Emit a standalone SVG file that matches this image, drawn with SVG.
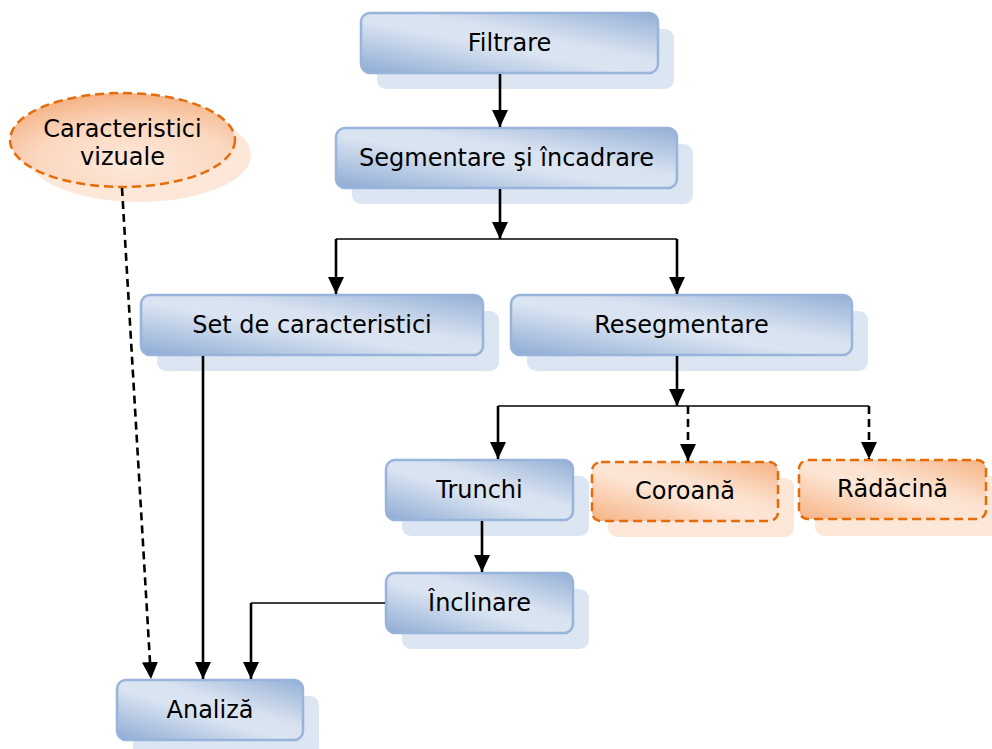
<svg xmlns="http://www.w3.org/2000/svg" width="992" height="749" viewBox="0 0 992 749">
<defs>
<linearGradient id="gb" x1="0" y1="1" x2="1" y2="0">
<stop offset="0" stop-color="#8eabd4"/>
<stop offset="0.45" stop-color="#dbe5f2"/>
<stop offset="0.6" stop-color="#d8e2f0"/>
<stop offset="1" stop-color="#93afd6"/>
</linearGradient>
<linearGradient id="go" x1="0" y1="1" x2="1" y2="0">
<stop offset="0" stop-color="#f6b384"/>
<stop offset="0.45" stop-color="#fde6d6"/>
<stop offset="0.6" stop-color="#fce2cf"/>
<stop offset="1" stop-color="#f6b384"/>
</linearGradient>
<radialGradient id="ge" cx="0.55" cy="0.75" r="0.8">
<stop offset="0" stop-color="#fde9db"/>
<stop offset="0.55" stop-color="#fbd7bf"/>
<stop offset="1" stop-color="#f4ad7c"/>
</radialGradient>
<marker id="ah" viewBox="0 0 17 16" refX="17" refY="8" markerWidth="17" markerHeight="16" markerUnits="userSpaceOnUse" orient="auto">
<path d="M0,0 L17,8 L0,16 z" fill="#000"/>
</marker>
</defs>
<style>
.sb{fill:#dce6f2;}
.so{fill:#fde7d8;}
.bb{fill:url(#gb);stroke:#98b4da;stroke-width:2.5;}
.bo{fill:url(#go);stroke:#e46c0a;stroke-width:2.5;stroke-dasharray:9 5;}
.t{font-family:"DejaVu Sans",Verdana,sans-serif;font-size:24px;fill:#000;text-anchor:middle;}
.c{fill:none;stroke:#000;stroke-width:2.6;}
.h{fill:none;stroke:#000;stroke-width:1.6;}
.d{stroke-dasharray:8 5;}
</style>
<g id="node-caracteristici-vizuale">
<ellipse cx="139" cy="155" rx="112" ry="47" class="so"/>
<ellipse cx="122.5" cy="140" rx="112.5" ry="47" fill="url(#ge)" stroke="#e46c0a" stroke-width="2.5" stroke-dasharray="9 5"/>
<text class="t" x="122.5" y="137">Caracteristici</text>
<text class="t" x="122.5" y="165">vizuale</text>
</g>
<g id="node-filtrare">
<rect class="sb" x="377" y="29" width="297" height="60" rx="9"/>
<rect class="bb" x="361" y="13" width="297" height="60" rx="9"/>
<text class="t" x="509.5" y="51">Filtrare</text>
</g>
<g id="node-segmentare">
<rect class="sb" x="352" y="144" width="341" height="60" rx="9"/>
<rect class="bb" x="336" y="128" width="341" height="60" rx="9"/>
<text class="t" x="506.5" y="166">Segmentare şi încadrare</text>
</g>
<g id="node-set">
<rect class="sb" x="157" y="311" width="342" height="60" rx="9"/>
<rect class="bb" x="141" y="295" width="342" height="60" rx="9"/>
<text class="t" x="312" y="333">Set de caracteristici</text>
</g>
<g id="node-resegmentare">
<rect class="sb" x="527" y="311" width="341" height="60" rx="9"/>
<rect class="bb" x="511" y="295" width="341" height="60" rx="9"/>
<text class="t" x="681.5" y="333">Resegmentare</text>
</g>
<g id="node-trunchi">
<rect class="sb" x="402" y="476" width="187" height="60" rx="9"/>
<rect class="bb" x="386" y="460" width="187" height="60" rx="9"/>
<text class="t" x="479.5" y="498">Trunchi</text>
</g>
<g id="node-coroana">
<rect class="so" x="608" y="478" width="186" height="59" rx="9"/>
<rect class="bo" x="592" y="462" width="186" height="59" rx="9"/>
<text class="t" x="685" y="499">Coroană</text>
</g>
<g id="node-radacina">
<rect class="so" x="815" y="476" width="187" height="60" rx="9"/>
<rect class="bo" x="799" y="460" width="187" height="59" rx="9"/>
<text class="t" x="892.5" y="497">Rădăcină</text>
</g>
<g id="node-inclinare">
<rect class="sb" x="402" y="589" width="187" height="60" rx="9"/>
<rect class="bb" x="386" y="573" width="187" height="60" rx="9"/>
<text class="t" x="479.5" y="611">Înclinare</text>
</g>
<g id="node-analiza">
<rect class="sb" x="133" y="696" width="186" height="60" rx="9"/>
<rect class="bb" x="117" y="680" width="186" height="60" rx="9"/>
<text class="t" x="210" y="718">Analiză</text>
</g>
<g id="connectors">
<path class="c" d="M500,74 L500,127" marker-end="url(#ah)"/>
<path class="c" d="M500,189 L500,239" marker-end="url(#ah)"/>
<path class="h" d="M336,239 L677,239"/>
<path class="c" d="M336,239 L336,294" marker-end="url(#ah)"/>
<path class="c" d="M677,239 L677,294" marker-end="url(#ah)"/>
<path class="c" d="M677,356 L677,406" marker-end="url(#ah)"/>
<path class="h" d="M498,406 L869,406"/>
<path class="c" d="M498,406 L498,459" marker-end="url(#ah)"/>
<path class="c d" d="M688,406 L688,461" marker-end="url(#ah)"/>
<path class="c d" d="M869,406 L869,459" marker-end="url(#ah)"/>
<path class="c" d="M482,521 L482,572" marker-end="url(#ah)"/>
<path class="h" d="M385,603 L251,603"/>
<path class="c" d="M251,603 L251,679" marker-end="url(#ah)"/>
<path class="c" d="M203,356 L203,679" marker-end="url(#ah)"/>
<path class="c d" d="M122,188 L151,679" marker-end="url(#ah)"/>
</g>
</svg>
